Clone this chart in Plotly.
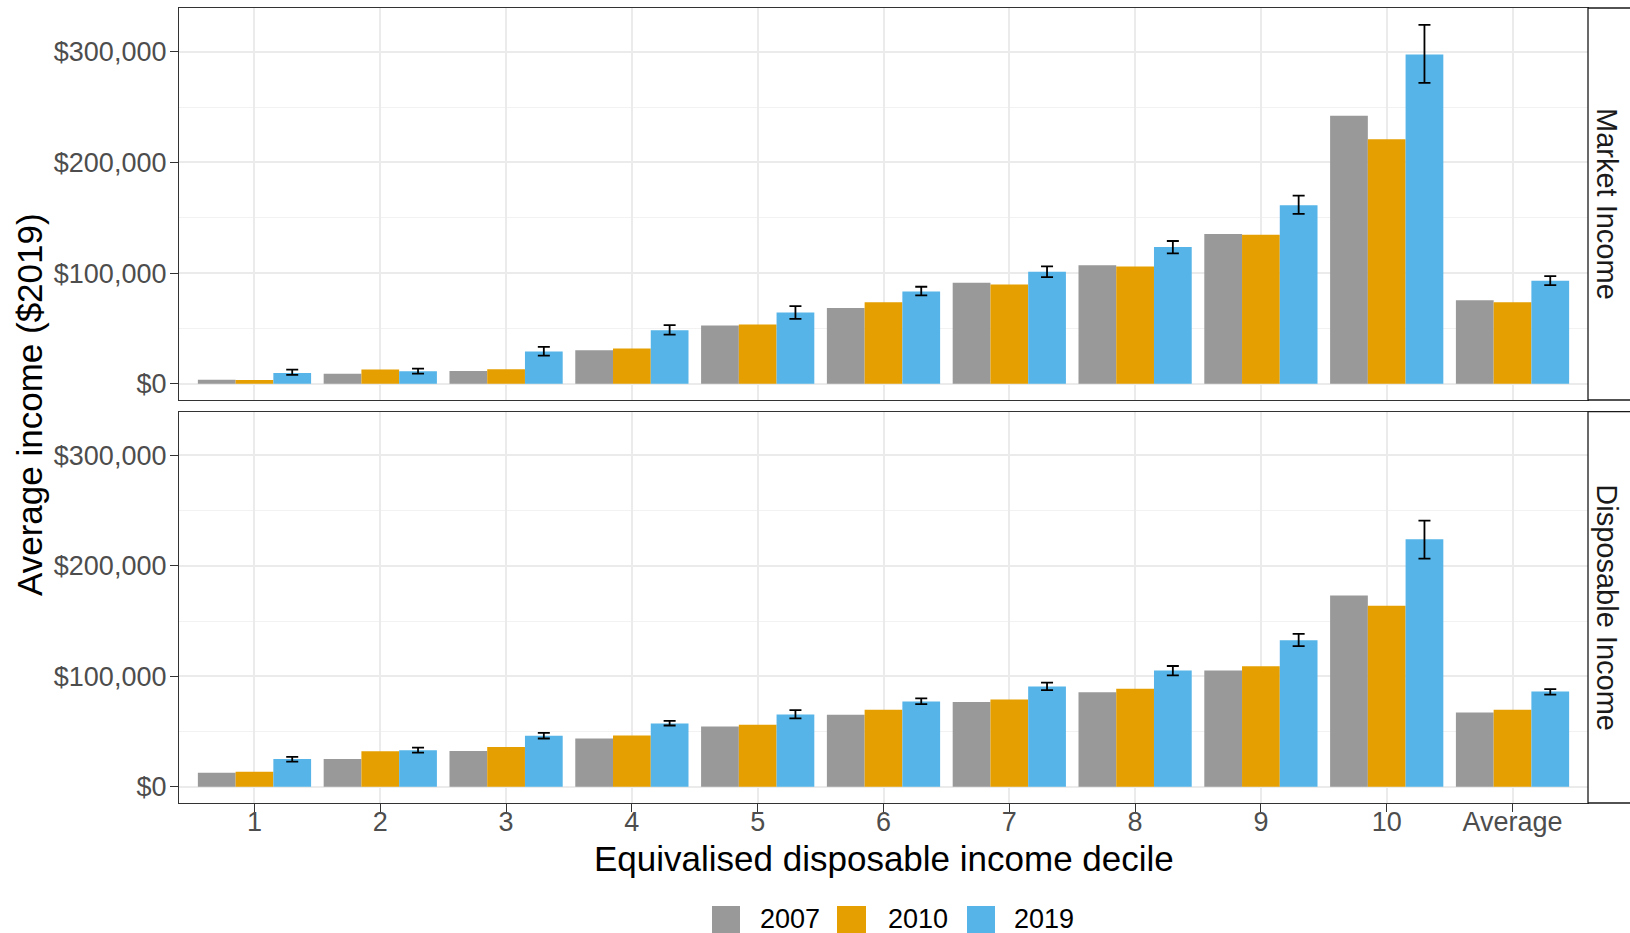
import plotly.graph_objects as go

# Categories and series
deciles = ["1", "2", "3", "4", "5", "6", "7", "8", "9", "10", "Average"]
years = ["2007", "2010", "2019"]
year_colors = ["#999999", "#E69F00", "#56B4E9"]
panels = ["Market Income", "Disposable Income"]

# Market income ($2019)
market_2007 = [3600, 9000, 11500, 30200, 52600, 68300, 91200, 107000, 135300, 242300, 75500]
market_2010 = [3300, 12700, 13000, 31700, 53500, 73700, 89700, 106000, 134700, 221100, 73700]
market_2019 = [9700, 11200, 29000, 48300, 64400, 83400, 101200, 123600, 161300, 297600, 93000]
market_2019_lo = [7900, 9100, 25400, 44400, 58600, 79800, 96400, 117800, 153500, 271900, 89100]
market_2019_hi = [12700, 13600, 33200, 52900, 70100, 87600, 106000, 129000, 170000, 324500, 97300]

# Disposable income ($2019)
disp_2007 = [12700, 25100, 32400, 43600, 54500, 65100, 76600, 85400, 105100, 173200, 67200]
disp_2010 = [13600, 32100, 36000, 46300, 56000, 69600, 79000, 88700, 109000, 163800, 69600]
disp_2019 = [25100, 33000, 46000, 57200, 65400, 77200, 90800, 105100, 132600, 224000, 86300]
disp_2019_lo = [22700, 30900, 43600, 55400, 61800, 74800, 87500, 100800, 127200, 206500, 83300]
disp_2019_hi = [26900, 35400, 48700, 59600, 69300, 79900, 94200, 109300, 138400, 241000, 88400]

y_ticks = [0, 100000, 200000, 300000]
y_tick_text = ["$" + format(v, ",") for v in y_ticks]
y_minor = [50000, 150000, 250000]

# Page geometry (pixels)
W, H = 1630, 933
ML, MR, MT, MB = 179, 42, 8, 130
PW, PH = W - ML - MR, H - MT - MB


def px_x(px):
    return (px - ML) / PW


def px_y(py):
    return (H - MB - py) / PH


top_dom = [px_y(400), 1.0]
bot_dom = [0.0, px_y(411.6)]

FONT = "Liberation Sans, Arial, sans-serif"
TICK_FONT = dict(family=FONT, size=27, color="#4D4D4D")
GRID = "#EBEBEB"
BORDER = "#333333"

fig = go.Figure()

panel_data = [
    ("x", "y", [market_2007, market_2010, market_2019], market_2019_lo, market_2019_hi),
    ("x2", "y2", [disp_2007, disp_2010, disp_2019], disp_2019_lo, disp_2019_hi),
]

for xa, ya, series, lo, hi in panel_data:
    for yr, col, vals in zip(years, year_colors, series):
        err = None
        if yr == "2019":
            err = dict(
                type="data",
                symmetric=False,
                array=[h - v for h, v in zip(hi, vals)],
                arrayminus=[v - l for v, l in zip(vals, lo)],
                color="black",
                thickness=1.8,
                width=6,
            )
        fig.add_trace(go.Bar(
            x=deciles, y=vals, name=yr, marker=dict(color=col, line=dict(width=0)),
            error_y=err, xaxis=xa, yaxis=ya, offsetgroup=yr, showlegend=False,
        ))

yaxis_common = dict(
    range=[-14800, 339700],
    tickmode="array",
    tickvals=y_ticks,
    ticktext=y_tick_text,
    tickfont=TICK_FONT,
    ticks="outside",
    ticklen=8,
    tickwidth=1.3,
    tickcolor=BORDER,
    ticklabelstandoff=-2,
    showgrid=True,
    gridcolor=GRID,
    gridwidth=2,
    zeroline=False,
    showline=True,
    mirror=True,
    linecolor=BORDER,
    linewidth=1.3,
    minor=dict(tickvals=y_minor, showgrid=True, gridcolor="#F2F2F2", gridwidth=1, ticks=""),
    fixedrange=True,
)

xaxis_common = dict(
    type="category",
    categoryorder="array",
    categoryarray=deciles,
    range=[-0.6, 10.6],
    showgrid=True,
    gridcolor=GRID,
    gridwidth=2,
    zeroline=False,
    showline=True,
    mirror=True,
    linecolor=BORDER,
    linewidth=1.3,
    tickfont=TICK_FONT,
    fixedrange=True,
)

fig.update_layout(
    width=W,
    height=H,
    margin=dict(l=ML, r=MR, t=MT, b=MB, pad=0),
    paper_bgcolor="white",
    plot_bgcolor="white",
    barmode="group",
    bargap=0.1,
    bargroupgap=0.0,
    showlegend=False,
    xaxis=dict(xaxis_common, domain=[0, 1], anchor="y", showticklabels=False, ticks=""),
    yaxis=dict(yaxis_common, domain=top_dom, anchor="x"),
    xaxis2=dict(xaxis_common, domain=[0, 1], anchor="y2", matches="x",
                ticks="outside", ticklen=8, tickwidth=1.3, tickcolor=BORDER,
                ticklabelstandoff=-14),
    yaxis2=dict(yaxis_common, domain=bot_dom, anchor="x2"),
)

shapes = []
annotations = []

# Facet strips on the right
for dom, label in zip([top_dom, bot_dom], panels):
    shapes.append(dict(
        type="rect", xref="paper", yref="paper",
        x0=1.0, x1=px_x(W + 10), y0=dom[0], y1=dom[1],
        fillcolor="white", line=dict(color="#1A1A1A", width=1.3), layer="above",
    ))
    annotations.append(dict(
        xref="paper", yref="paper", x=px_x(1607), y=(dom[0] + dom[1]) / 2,
        text=label, textangle=90, showarrow=False,
        font=dict(family=FONT, size=29, color="#1A1A1A"),
        xanchor="center", yanchor="middle",
    ))

# Axis titles
annotations.append(dict(
    xref="paper", yref="paper", x=px_x(29), y=px_y(405),
    text="Average income ($2019)", textangle=-90, showarrow=False,
    font=dict(family=FONT, size=35, color="black"),
    xanchor="center", yanchor="middle",
))
annotations.append(dict(
    xref="paper", yref="paper", x=px_x(884), y=px_y(858),
    text="Equivalised disposable income decile", showarrow=False,
    font=dict(family=FONT, size=35, color="black"),
    xanchor="center", yanchor="middle",
))

# Legend drawn along the bottom
legend_keys = [(712, 740, 758), (837, 866, 886), (967, 995, 1012)]
for (k0, k1, tx), yr, col in zip(legend_keys, years, year_colors):
    shapes.append(dict(
        type="rect", xref="paper", yref="paper",
        x0=px_x(k0), x1=px_x(k1), y0=px_y(933), y1=px_y(906),
        fillcolor=col, line=dict(width=0),
    ))
    annotations.append(dict(
        xref="paper", yref="paper", x=px_x(tx), y=px_y(919),
        text=yr, showarrow=False,
        font=dict(family=FONT, size=27, color="black"),
        xanchor="left", yanchor="middle",
    ))

fig.update_layout(shapes=shapes, annotations=annotations)

fig.write_html("out.html", config={"displayModeBar": False})
